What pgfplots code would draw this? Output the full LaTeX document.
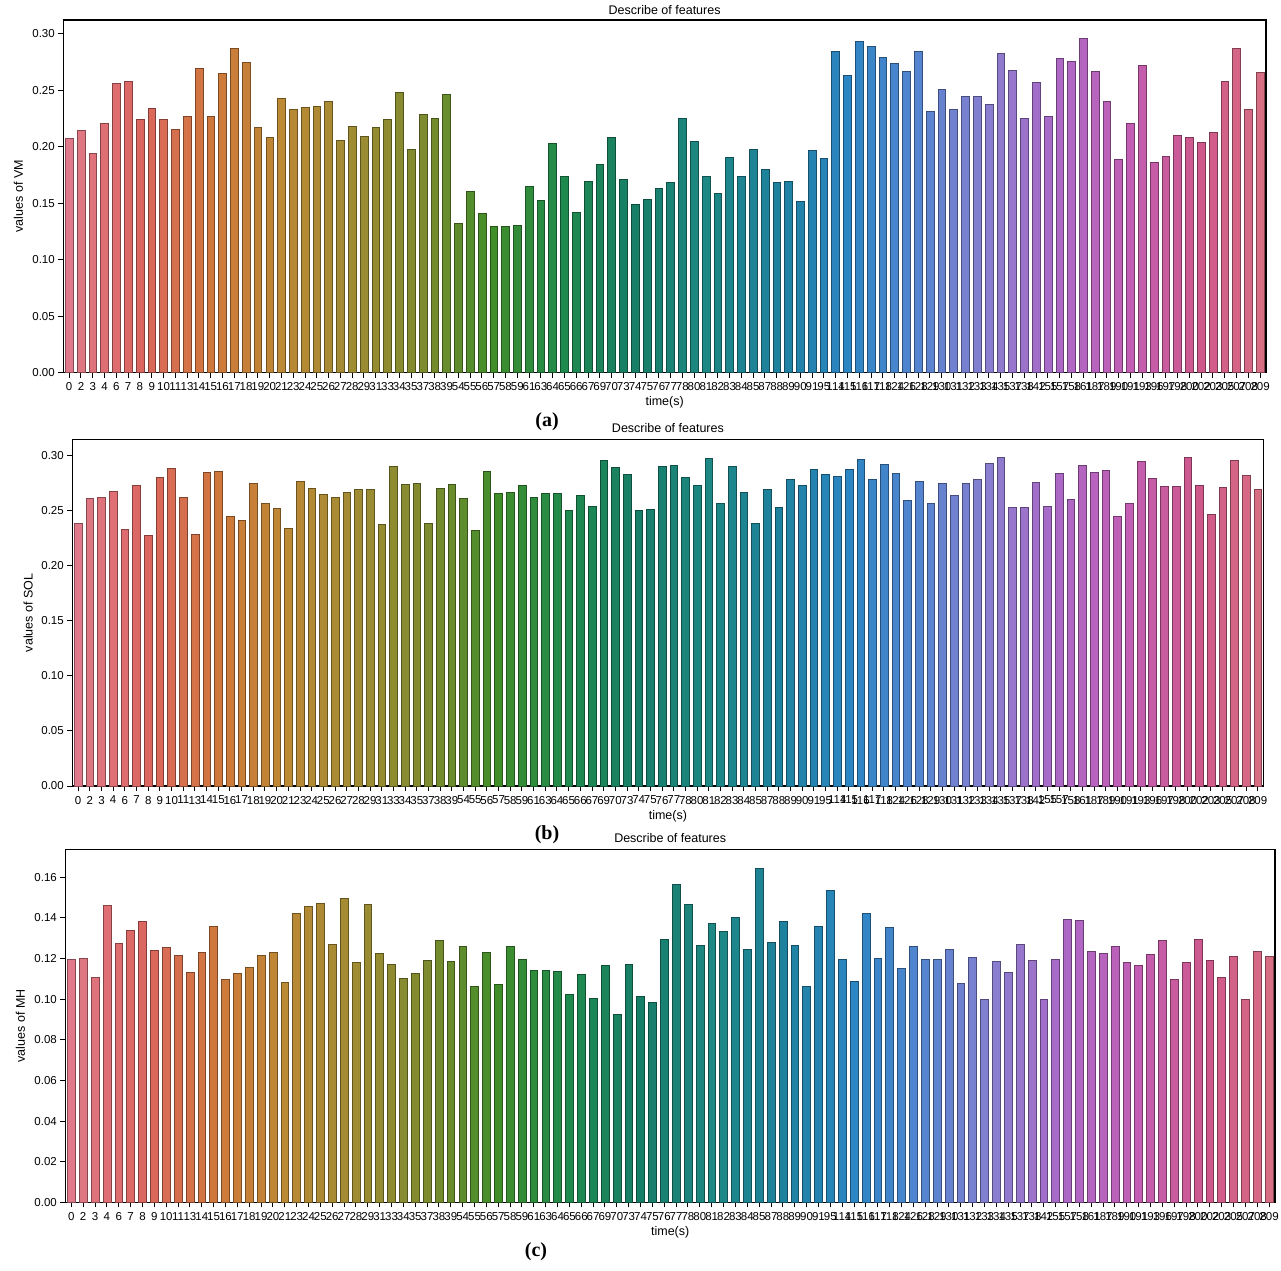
\documentclass[border=0pt]{standalone}
\usepackage{pgfplots}
\pgfplotsset{compat=1.18}
\usepackage{pgfplotstable}
\usepackage{fontspec}
\setmainfont{Liberation Sans}
\newfontfamily\tnr{Liberation Serif}

\pgfplotstableread{
idx lab vm sol mh
0 0 0.2075 0.239 0.1198
1 2 0.215 0.261 0.1201
2 3 0.194 0.262 0.1106
3 4 0.221 0.268 0.1462
4 6 0.256 0.233 0.1277
5 7 0.258 0.273 0.1341
6 8 0.2247 0.228 0.1383
7 9 0.234 0.280 0.1239
8 10 0.2247 0.289 0.1255
9 11 0.216 0.262 0.1214
10 13 0.2267 0.229 0.1134
11 14 0.2697 0.285 0.1229
12 15 0.2267 0.286 0.1357
13 16 0.265 0.245 0.1096
14 17 0.287 0.241 0.1129
15 18 0.2747 0.275 0.1155
16 19 0.217 0.257 0.1214
17 20 0.2084 0.252 0.1229
18 21 0.2427 0.234 0.1081
19 23 0.2333 0.277 0.1421
20 24 0.235 0.2707 0.1457
21 25 0.236 0.265 0.1472
22 26 0.240 0.262 0.127
23 27 0.206 0.267 0.1495
24 28 0.2187 0.2695 0.118
25 29 0.209 0.2695 0.1467
26 31 0.217 0.238 0.1224
27 33 0.2247 0.290 0.117
28 34 0.2487 0.274 0.1101
29 35 0.1977 0.275 0.1129
30 37 0.229 0.239 0.1191
31 38 0.2255 0.2707 0.1291
32 39 0.2466 0.274 0.1185
33 54 0.132 0.2613 0.126
34 55 0.161 0.2325 0.1063
35 56 0.141 0.2861 0.1229
36 57 0.1295 0.2655 0.1075
37 58 0.1295 0.2664 0.126
38 59 0.1304 0.2734 0.1196
39 61 0.1654 0.2622 0.1144
40 63 0.1526 0.2655 0.1144
41 64 0.2036 0.2655 0.1139
42 65 0.1737 0.2504 0.1022
43 66 0.1423 0.264 0.1122
44 67 0.170 0.254 0.1006
45 69 0.1843 0.2958 0.1165
46 70 0.2084 0.2897 0.0925
47 73 0.1716 0.2834 0.117
48 74 0.1488 0.2504 0.1016
49 75 0.1535 0.2513 0.0985
50 76 0.163 0.2906 0.1296
51 77 0.1686 0.2916 0.1564
52 78 0.2255 0.280 0.1467
53 80 0.205 0.2734 0.1267
54 81 0.1737 0.2976 0.1372
55 82 0.1586 0.2567 0.1334
56 83 0.191 0.2906 0.1405
57 84 0.1737 0.267 0.1244
58 85 0.1977 0.2386 0.1643
59 87 0.180 0.2698 0.1282
60 88 0.1686 0.2531 0.1382
61 89 0.170 0.2782 0.1267
62 90 0.1515 0.2734 0.1063
63 91 0.197 0.2879 0.1357
64 95 0.190 0.2834 0.1536
65 114 0.2848 0.281 0.1196
66 115 0.2638 0.2879 0.1086
67 116 0.2934 0.297 0.1421
68 117 0.2887 0.2782 0.1201
69 118 0.2798 0.2922 0.1352
70 124 0.2744 0.284 0.115
71 126 0.2667 0.2595 0.1262
72 128 0.2848 0.277 0.1196
73 129 0.232 0.2567 0.1196
74 130 0.2513 0.2749 0.1244
75 131 0.2333 0.2643 0.108
76 132 0.2445 0.2749 0.1206
77 133 0.2445 0.2788 0.1001
78 134 0.2377 0.2931 0.1185
79 135 0.283 0.2982 0.1134
80 137 0.2682 0.2528 0.1272
81 138 0.2252 0.2528 0.1191
82 142 0.2573 0.2761 0.1001
83 155 0.2273 0.2537 0.1196
84 157 0.2789 0.284 0.1393
85 158 0.2762 0.2607 0.1387
86 161 0.2964 0.2912 0.1234
87 187 0.2673 0.2849 0.1224
88 189 0.240 0.2867 0.1262
89 190 0.1888 0.2452 0.118
90 191 0.2208 0.2567 0.1165
91 193 0.2724 0.2946 0.1219
92 196 0.1861 0.2797 0.1291
93 197 0.1918 0.2722 0.1096
94 198 0.2107 0.2722 0.118
95 200 0.2084 0.2982 0.1296
96 202 0.2042 0.2731 0.1191
97 203 0.2128 0.247 0.1106
98 205 0.2581 0.2713 0.1213
99 207 0.2878 0.2958 0.1001
100 208 0.2333 0.2819 0.1234
101 209 0.2664 0.2692 0.1213
}\data

% husl-like palette anchors (every 6 bars)
\definecolor{a0}{HTML}{E07A8A}
\definecolor{a1}{HTML}{DC6660}
\definecolor{a2}{HTML}{D0783C}
\definecolor{a3}{HTML}{BC8934}
\definecolor{a4}{HTML}{A08C33}
\definecolor{a5}{HTML}{7E8B2E}
\definecolor{a6}{HTML}{3F8E2A}
\definecolor{a7}{HTML}{1F8A4E}
\definecolor{a8}{HTML}{177E68}
\definecolor{a9}{HTML}{1D8884}
\definecolor{a10}{HTML}{1E819E}
\definecolor{a11}{HTML}{2C86C4}
\definecolor{a12}{HTML}{5585D0}
\definecolor{a13}{HTML}{8A7ED0}
\definecolor{a14}{HTML}{AD68C6}
\definecolor{a15}{HTML}{C35EB4}
\definecolor{a16}{HTML}{CF588A}
\definecolor{a17}{HTML}{DA7282}
\foreach \i in {0,...,101}{%
  \pgfmathtruncatemacro\s{floor(\i/6)}%
  \pgfmathtruncatemacro\n{\s+1}%
  \pgfmathsetmacro\p{100-100*(\i-6*\s)/6}%
  \xglobal\colorlet{c\i}{a\s!\p!a\n}%
}

\pgfplotsset{
  panel/.style={
    scale only axis, anchor=south west,
    ybar, bar width=0.66,
    xmin=-0.5, xmax=101.5, ymin=0,
    enlargelimits=false,
    xtick={0,...,101},
    xticklabels from table={\data}{lab},
    xtick pos=left, ytick pos=left,
    tick align=outside, major tick length=5pt,
    axis line style={line width=1.2pt, black},
    tick style={line width=1pt, black},
    ticklabel style={font=\fontsize{11.5}{12}\selectfont},
    xticklabel style={yshift=-1.5pt},
    yticklabel style={/pgf/number format/.cd, fixed, fixed zerofill, precision=2, assume math mode=true},
    title={Describe of features},
    title style={font=\fontsize{12.5}{14}\selectfont, at={(axis description cs:0.5,1)}, anchor=center, inner sep=0pt},
    xlabel={time(s)},
    xlabel style={font=\fontsize{12.5}{14}\selectfont, at={(axis description cs:0.5,0)}, anchor=center, inner sep=0pt, yshift=-30pt},
    ylabel style={font=\fontsize{12.5}{14}\selectfont, anchor=center, inner sep=0pt},
  },
  bar/.style={fill=c#1, draw=c#1!60!black, line width=0.5pt, bar shift=0pt, forget plot},
}

\begin{document}
\begin{tikzpicture}
\path[use as bounding box] (0,0) rectangle (1281pt,1270pt);

% (a) VM
\begin{axis}[panel, at={(63.3pt,897.3pt)}, width=1202.7pt, height=352.7pt,
  ymax=0.3124, ytick={0,0.05,0.1,0.15,0.2,0.25,0.3},
  ylabel={values of VM}, ylabel style={at={(axis description cs:-0.0374,0.5)}},
  title style={yshift=4pt}]
\pgfplotsinvokeforeach{0,...,101}{\addplot[bar=#1] table[x=idx, y=vm, restrict expr to domain={\coordindex}{#1:#1}] {\data};}
\end{axis}

% (b) SOL
\begin{axis}[panel, at={(72.3pt,484pt)}, width=1191.2pt, height=346.3pt,
  ymax=0.3145, ytick={0,0.05,0.1,0.15,0.2,0.25,0.3},
  ylabel={values of SOL}, ylabel style={at={(axis description cs:-0.037,0.5)}},
  title style={yshift=5.5pt}]
\pgfplotsinvokeforeach{0,...,101}{\addplot[bar=#1] table[x=idx, y=sol, restrict expr to domain={\coordindex}{#1:#1}] {\data};}
\end{axis}

% (c) MH
\begin{axis}[panel, at={(65.4pt,67.7pt)}, width=1209.6pt, height=352.6pt,
  ymax=0.1736, ytick={0,0.02,0.04,0.06,0.08,0.1,0.12,0.14,0.16},
  ylabel={values of MH}, ylabel style={at={(axis description cs:-0.0372,0.5)}},
  title style={yshift=5.5pt}]
\pgfplotsinvokeforeach{0,...,101}{\addplot[bar=#1] table[x=idx, y=mh, restrict expr to domain={\coordindex}{#1:#1}] {\data};}
\end{axis}

\node[font=\tnr\bfseries\fontsize{20}{24}\selectfont] at (547pt,848pt) {(a)};
\node[font=\tnr\bfseries\fontsize{20}{24}\selectfont] at (547pt,435pt) {(b)};
\node[font=\tnr\bfseries\fontsize{20}{24}\selectfont] at (536pt,18pt) {(c)};
\end{tikzpicture}
\end{document}
